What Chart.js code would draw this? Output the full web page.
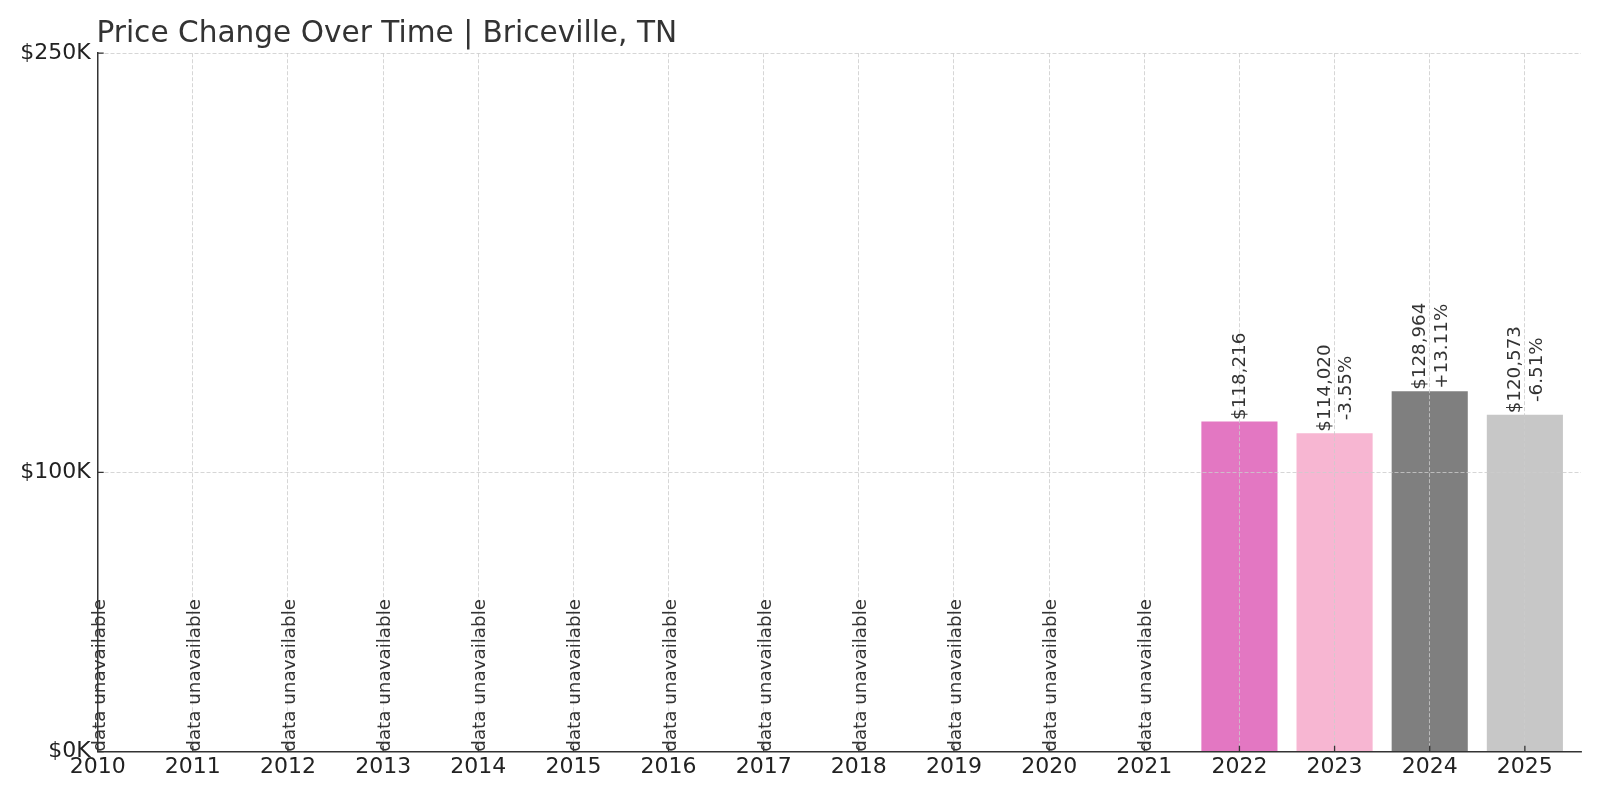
<!DOCTYPE html>
<html>
<head>
<meta charset="utf-8">
<script src="https://cdn.jsdelivr.net/npm/chart.js@4.4.1/dist/chart.umd.min.js"></script>
<style>
html, body { margin: 0; padding: 0; background: #ffffff; }
#wrap { width: 1600px; height: 800px; }
</style>
</head>
<body>
<div id="wrap"><canvas id="c" width="1600" height="800"></canvas></div>
<script>
// ---- data ----
const titleText = 'Price Change Over Time | Briceville, TN';
const missingText = 'data unavailable';
const years = [2010, 2011, 2012, 2013, 2014, 2015, 2016, 2017, 2018, 2019, 2020, 2021, 2022, 2023, 2024, 2025];
const prices = [null, null, null, null, null, null, null, null, null, null, null, null, 118216, 114020, 128964, 120573];
const changeLabels = [null, null, null, null, null, null, null, null, null, null, null, null, null, '-3.55%', '+13.11%', '-6.51%'];
const barColors = ['#e377c2', '#e377c2', '#e377c2', '#e377c2', '#e377c2', '#e377c2', '#e377c2', '#e377c2', '#e377c2', '#e377c2', '#e377c2', '#e377c2', '#e377c2', '#f7b6d2', '#7f7f7f', '#c7c7c7'];
const yTickValues = [0, 100000, 250000];

const FONT = 'DejaVu Sans';

const annotations = {
  id: 'annotations',
  afterDraw(chart) {
    const ctx = chart.ctx;
    const xs = chart.scales.x, ys = chart.scales.y;
    const area = chart.chartArea;
    const meta = chart.getDatasetMeta(0);
    ctx.save();
    // title
    ctx.fillStyle = '#333333';
    ctx.font = '29.6px "' + FONT + '"';
    ctx.textAlign = 'left';
    ctx.textBaseline = 'alphabetic';
    ctx.fillText(titleText, 96.4, 42.3);

    // inward tick marks
    ctx.strokeStyle = '#333333';
    ctx.lineWidth = 1.3;
    ctx.beginPath();
    xs.ticks.forEach(t => {
      const px = xs.getPixelForValue(t.value);
      ctx.moveTo(px, area.bottom);
      ctx.lineTo(px, area.bottom - 6);
    });
    ys.ticks.forEach(t => {
      const py = ys.getPixelForValue(t.value);
      ctx.moveTo(area.left, py);
      ctx.lineTo(area.left + 6, py);
    });
    ctx.stroke();

    // labels
    ctx.fillStyle = '#333333';
    ctx.font = '18.3px "' + FONT + '"';
    const lineH = 21.8;
    years.forEach((yr, i) => {
      const px = xs.getPixelForValue(yr);
      if (prices[i] == null) {
        const py = ys.getPixelForValue(0);
        ctx.save();
        ctx.translate(px, py);
        ctx.rotate(-Math.PI / 2);
        ctx.textAlign = 'left';
        ctx.textBaseline = 'alphabetic';
        ctx.fillText(missingText, 0, 7);
        ctx.restore();
      } else {
        const bar = meta.data[i];
        const lines = ['$' + prices[i].toLocaleString('en-US')];
        if (changeLabels[i]) lines.push(changeLabels[i]);
        const maxW = Math.max(...lines.map(l => ctx.measureText(l).width));
        ctx.save();
        ctx.translate(bar.x, bar.y);
        ctx.rotate(-Math.PI / 2);
        ctx.textAlign = 'center';
        ctx.textBaseline = 'alphabetic';
        lines.forEach((l, j) => {
          const off = 6 + (j - (lines.length - 1) / 2) * lineH;
          ctx.fillText(l, 1.5 + maxW / 2, off);
        });
        ctx.restore();
      }
    });
    ctx.restore();
  }
};

new Chart(document.getElementById('c'), {
  type: 'bar',
  data: {
    datasets: [{
      data: years.map((yr, i) => ({ x: yr, y: prices[i] })),
      backgroundColor: barColors,
      borderWidth: 0,
      barPercentage: 0.8,
      categoryPercentage: 1.0
    }]
  },
  options: {
    responsive: false,
    animation: false,
    devicePixelRatio: 1,
    layout: { padding: { top: 53.2, right: 19, left: 0, bottom: 0 } },
    plugins: { legend: { display: false }, tooltip: { enabled: false }, title: { display: false } },
    scales: {
      x: {
        type: 'linear',
        min: 2010,
        max: 2025.59,
        offset: false,
        z: 1,
        grid: { color: '#cccccc', lineWidth: 0.8, drawTicks: false, offset: false, z: 1 },
        border: { display: true, color: '#333333', width: 1.5, dash: [4, 2], z: 2 },
        ticks: {
          font: { family: FONT, size: 22 },
          color: '#222222',
          padding: 2.4,
          maxRotation: 0,
          autoSkip: false,
          callback: v => String(v)
        },
        afterBuildTicks: s => { s.ticks = years.map(v => ({ value: v })); },
        afterFit: s => { s.height = 48.3; }
      },
      y: {
        type: 'linear',
        min: 0,
        max: 250000,
        z: 1,
        grid: { color: '#cccccc', lineWidth: 0.8, drawTicks: false, z: 1 },
        border: { display: true, color: '#333333', width: 1.5, dash: [4, 2], z: 2 },
        ticks: {
          font: { family: FONT, size: 22 },
          color: '#222222',
          padding: 7,
          callback: v => '$' + (v / 1000) + 'K'
        },
        afterBuildTicks: s => { s.ticks = yTickValues.map(v => ({ value: v })); },
        afterFit: s => { s.width = 97.7; }
      }
    }
  },
  plugins: [annotations]
});
</script>
</body>
</html>
